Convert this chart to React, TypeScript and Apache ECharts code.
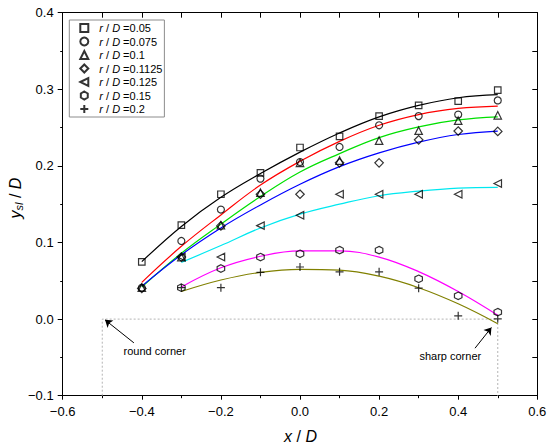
import React, { useEffect, useRef } from "react";
import * as echarts from "echarts";

// x positions (x / D)
const xFromM04 = [-0.4, -0.3, -0.2, -0.1, 0.0, 0.1, 0.2, 0.3, 0.4, 0.5];
const xFromM03 = [-0.3, -0.2, -0.1, 0.0, 0.1, 0.2, 0.3, 0.4, 0.5];

// measured points (y_sl / D)
const pts005 = [0.0747, 0.1226, 0.163, 0.191, 0.224, 0.2386, 0.265, 0.279, 0.2846, 0.299];
const pts0075 = [0.041, 0.102, 0.143, 0.1834, 0.205, 0.2247, 0.253, 0.265, 0.267, 0.2855];
const pts01 = [0.041, 0.081, 0.1225, 0.165, 0.204, 0.207, 0.233, 0.246, 0.259, 0.266];
const pts01125 = [0.04, 0.081, 0.1217, 0.163, 0.163, 0.204, 0.204, 0.234, 0.2455, 0.245];
const pts0125 = [0.081, 0.081, 0.122, 0.1356, 0.163, 0.163, 0.163, 0.163, 0.177];
const pts015 = [0.041, 0.066, 0.081, 0.0852, 0.09, 0.09, 0.0526, 0.0304, 0.0091];
const pts02 = [0.041, 0.041, 0.061, 0.068, 0.0617, 0.0617, 0.0404, 0.0043, 0.0004];

// fitted curves
const fit005 = [0.075, 0.121, 0.159, 0.19, 0.218, 0.243, 0.264, 0.279, 0.289, 0.293];
const fit0075 = [0.048, 0.095, 0.136, 0.175, 0.206, 0.232, 0.253, 0.267, 0.275, 0.278];
const fit01 = [0.042, 0.086, 0.124, 0.16, 0.192, 0.216, 0.237, 0.251, 0.26, 0.264];
const fit01125 = [0.043, 0.084, 0.119, 0.149, 0.176, 0.199, 0.217, 0.231, 0.241, 0.2455];
const fit0125 = [0.074, 0.096, 0.119, 0.137, 0.15, 0.161, 0.167, 0.171, 0.172];
const fit015 = [0.042, 0.067, 0.082, 0.089, 0.089, 0.081, 0.062, 0.036, 0.005];
const fit02 = [0.036, 0.051, 0.061, 0.065, 0.064, 0.056, 0.041, 0.02, -0.006];

const legendNames = [
  "r / D =0.05",
  "r / D =0.075",
  "r / D =0.1",
  "r / D =0.1125",
  "r / D =0.125",
  "r / D =0.15",
  "r / D =0.2",
];

// annotations
const cornerOutline = [[-0.5, -0.1], [-0.5, 0], [0.5, 0], [0.5, -0.1]];
const roundCornerArrow = [[-0.42, -0.031], [-0.493, -0.001]];
const sharpCornerArrow = [[0.4425, -0.038], [0.484, -0.011]];

const FONT = "Liberation Sans, Arial, sans-serif";

const zip = (xs: number[], ys: number[]) => xs.map((x, i) => [x, ys[i]]);

const fmt = (v: number) => {
  const r = Math.round(v * 10) / 10;
  return (r < 0 ? "\u2212" : "") + Math.abs(r).toFixed(1);
};

export default function App() {
  const ref = useRef<HTMLDivElement>(null);

  useEffect(() => {
    if (!ref.current) return;
    const chart = echarts.init(ref.current, undefined, { renderer: "svg" });

    const markerDefs = [
      { name: legendNames[0], xs: xFromM04, ys: pts005, symbol: "rect", size: 6.5 },
      { name: legendNames[1], xs: xFromM04, ys: pts0075, symbol: "circle", size: 7 },
      { name: legendNames[2], xs: xFromM04, ys: pts01, symbol: "triangle", size: 7.5 },
      { name: legendNames[3], xs: xFromM04, ys: pts01125, symbol: "diamond", size: 8.5 },
      { name: legendNames[4], xs: xFromM03, ys: pts0125, symbol: "path://M0,5L10,0L10,10Z", size: 7.5 },
      { name: legendNames[5], xs: xFromM03, ys: pts015, symbol: "path://M5,0L9.33,2.5L9.33,7.5L5,10L0.67,7.5L0.67,2.5Z", size: 7.5 },
      { name: legendNames[6], xs: xFromM03, ys: pts02, symbol: "path://M0,5L10,5M5,0L5,10", size: 8 },
    ];

    const fitDefs = [
      { xs: xFromM04, ys: fit005, color: "#000000" },
      { xs: xFromM04, ys: fit0075, color: "#ff0000" },
      { xs: xFromM04, ys: fit01, color: "#00e000" },
      { xs: xFromM04, ys: fit01125, color: "#0000ff" },
      { xs: xFromM03, ys: fit0125, color: "#00e8f0" },
      { xs: xFromM03, ys: fit015, color: "#ff00ff" },
      { xs: xFromM03, ys: fit02, color: "#808000" },
    ];

    const series: any[] = [];

    series.push({
      name: "corner",
      type: "line",
      data: cornerOutline,
      showSymbol: false,
      symbol: "none",
      silent: true,
      lineStyle: { color: "#b4b4b4", width: 1, type: [2, 2] },
      z: 1,
      markLine: {
        silent: true,
        symbol: ["none", "arrow"],
        symbolSize: 7,
        label: { show: false },
        lineStyle: { color: "#000", width: 1, type: "solid" },
        data: [
          [{ coord: roundCornerArrow[0] }, { coord: roundCornerArrow[1] }],
          [{ coord: sharpCornerArrow[0] }, { coord: sharpCornerArrow[1] }],
        ],
      },
    });

    fitDefs.forEach((f, i) => {
      series.push({
        name: "fit" + i,
        type: "line",
        data: zip(f.xs, f.ys),
        smooth: 0.4,
        showSymbol: false,
        symbol: "none",
        silent: true,
        lineStyle: { color: f.color, width: 1.2 },
        z: 2,
      });
    });

    markerDefs.forEach((m) => {
      series.push({
        name: m.name,
        type: "scatter",
        data: zip(m.xs, m.ys),
        symbol: m.symbol,
        symbolSize: m.size,
        itemStyle: { color: "rgba(0,0,0,0)", borderColor: "#000", borderWidth: 1.2 },
        z: 3,
      });
    });

    const axisLine = { show: true, onZero: false, lineStyle: { color: "#000", width: 1 } };
    const labelStyle = { color: "#000", fontSize: 13, fontFamily: FONT, margin: 9, formatter: fmt };

    const option: any = {
      animation: false,
      textStyle: { fontFamily: FONT },
      grid: { left: 62.7, top: 12.7, width: 474.6, height: 383, containLabel: false },
      xAxis: [
        {
          type: "value",
          position: "bottom",
          min: -0.6,
          max: 0.6,
          interval: 0.2,
          axisLine,
          axisTick: { show: true, inside: false, length: 4, lineStyle: { color: "#000" } },
          minorTick: { show: true, splitNumber: 2, length: 2.5, lineStyle: { color: "#000" } },
          splitLine: { show: false },
          minorSplitLine: { show: false },
          axisLabel: labelStyle,
        },
        {
          type: "value",
          position: "top",
          min: -0.6,
          max: 0.6,
          interval: 0.1,
          axisLine,
          axisTick: { show: true, inside: true, length: 5, lineStyle: { color: "#000" } },
          splitLine: { show: false },
          axisLabel: { show: false },
        },
      ],
      yAxis: [
        {
          type: "value",
          position: "left",
          min: -0.1,
          max: 0.4,
          interval: 0.1,
          axisLine,
          axisTick: { show: true, inside: false, length: 5, lineStyle: { color: "#000" } },
          minorTick: { show: true, splitNumber: 2, length: 2.5, lineStyle: { color: "#000" } },
          splitLine: { show: false },
          minorSplitLine: { show: false },
          axisLabel: labelStyle,
        },
        {
          type: "value",
          position: "right",
          min: -0.1,
          max: 0.4,
          interval: 0.05,
          axisLine,
          axisTick: { show: true, inside: true, length: 5, lineStyle: { color: "#000" } },
          splitLine: { show: false },
          axisLabel: { show: false },
        },
      ],
      legend: {
        data: legendNames,
        orient: "vertical",
        left: 69.3,
        top: 20,
        padding: [2, 2, 2, 10],
        itemWidth: 8,
        itemHeight: 8,
        itemGap: 1.5,
        borderColor: "#8c8c8c",
        borderWidth: 1,
        selectedMode: false,
        textStyle: {
          color: "#000",
          fontSize: 11,
          lineHeight: 12,
          fontFamily: FONT,
          padding: [0, 0, 0, 6],
          rich: {
            i: { fontStyle: "italic", fontSize: 11, fontFamily: FONT, color: "#000" },
            n: { fontSize: 11, fontFamily: FONT, color: "#000" },
          },
        },
        formatter: (name: string) => {
          const v = name.split("=")[1];
          return "{i|r}{n| / }{i|D}{n| =" + v + "}";
        },
      },
      graphic: [
        {
          type: "text",
          x: 300.5,
          y: 436,
          silent: true,
          style: {
            text: "{i|x}{n| / }{i|D}",
            align: "center",
            verticalAlign: "middle",
            fill: "#000",
            rich: {
              i: { fontStyle: "italic", fontSize: 16, fontFamily: FONT, fill: "#000" },
              n: { fontSize: 16, fontFamily: FONT, fill: "#000" },
            },
          },
        },
        {
          type: "text",
          x: 15,
          y: 198,
          rotation: Math.PI / 2,
          silent: true,
          style: {
            text: "{i|y}{s|sl}{n| / }{i|D}",
            align: "center",
            verticalAlign: "middle",
            fill: "#000",
            rich: {
              i: { fontStyle: "italic", fontSize: 16, fontFamily: FONT, fill: "#000" },
              s: { fontStyle: "italic", fontSize: 11, fontFamily: FONT, fill: "#000", padding: [8, 0, 0, 0] },
              n: { fontSize: 16, fontFamily: FONT, fill: "#000" },
            },
          },
        },
        {
          type: "text",
          x: 154.7,
          y: 350.7,
          silent: true,
          style: {
            text: "round corner",
            align: "center",
            verticalAlign: "middle",
            fontSize: 11,
            fontFamily: FONT,
            fill: "#000",
          },
        },
        {
          type: "text",
          x: 450.3,
          y: 355.7,
          silent: true,
          style: {
            text: "sharp corner",
            align: "center",
            verticalAlign: "middle",
            fontSize: 11,
            fontFamily: FONT,
            fill: "#000",
          },
        },
      ],
      series,
    };

    chart.setOption(option);
    return () => {
      chart.dispose();
    };
  }, []);

  return (
    <div
      ref={ref}
      style={{ position: "absolute", left: 0, top: 0, width: 550, height: 447, background: "#fff" }}
    />
  );
}
